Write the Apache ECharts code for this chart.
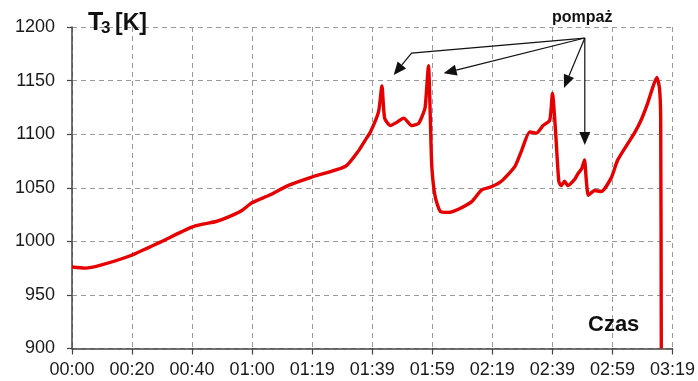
<!DOCTYPE html>
<html>
<head>
<meta charset="utf-8">
<script src="https://cdn.jsdelivr.net/npm/echarts@6/dist/echarts.min.js"></script>
<style>
  html, body { margin: 0; padding: 0; background: #fff; }
  #chart { width: 698px; height: 381px; }
</style>
</head>
<body>
<div id="chart"></div>
<script>
// Time since start, in minutes
const timeMin = [
  0, 4.3, 9.2, 19.7, 29, 39.4, 43.2, 47.7, 52, 56.3, 59.5, 65.2, 71.8, 79.3,
  90.5, 94.9, 97, 98.7, 101.4, 102.5, 103.4, 105.3, 107.4, 109.7, 112.4,
  114.6, 115.7, 116.8, 117.9, 118.5, 119, 120.1, 121.8, 124.5, 127.8, 132.2,
  135.5, 138.8, 142, 146.5, 148.6, 151.4, 153.6, 155.8, 158, 158.9, 159.9,
  161, 161.8, 162.9, 164, 166.3, 167.3, 168.6, 169.5, 170.1, 170.8, 172.8,
  175, 178.3, 180.5, 186, 188.2, 190.4, 192, 193.4, 194.3, 194.7, 194.9
];
// Turbine inlet temperature T3 [K]
const t3 = [
  976, 975, 977.5, 987, 999, 1013, 1016, 1018.5, 1023, 1029, 1036, 1043,
  1052.5, 1060, 1070, 1085, 1094.5, 1102, 1121, 1145, 1115, 1108, 1111,
  1115, 1108, 1110, 1116, 1125, 1164, 1116, 1070, 1042, 1028, 1027, 1030,
  1037, 1048, 1051, 1056, 1070, 1084, 1102, 1101, 1108, 1113, 1138, 1104,
  1056, 1052, 1056, 1052, 1058, 1063, 1068, 1076, 1057, 1043, 1047.5,
  1046.5, 1059, 1076, 1101, 1113, 1129, 1143, 1153, 1143, 1115, 900
];
// Time axis tick labels (hh:mm)
const tickLabels = ['00:00', '00:20', '00:40', '01:00', '01:19', '01:39',
                    '01:59', '02:19', '02:39', '02:59', '03:19'];
const tickStep = 19.86;          // minutes between time ticks
// Arrows for the "pompaż" annotation, in data coordinates [min, K]
const arrowOrigin = [169.6, 1189.7];
const arrowPaths = [
  [[112.3, 1175.7], [106.4, 1155.2]],
  [[122.9, 1156.8]],
  [[162.7, 1143.1]],
  [[169.6, 1089.9]]
];

const FONT = '"Liberation Sans", Arial, sans-serif';
const chart = echarts.init(document.getElementById('chart'), null, { renderer: 'canvas' });

const gridDash = { color: '#9a9a9a', width: 1, type: [5, 4] };

chart.setOption({
  animation: false,
  backgroundColor: '#ffffff',
  grid: { left: 72, right: 23, top: 27, bottom: 32.5, containLabel: false },
  xAxis: {
    type: 'value',
    min: 0,
    max: tickStep * (tickLabels.length - 1),
    interval: tickStep,
    axisLine: { show: true, lineStyle: { color: '#444', width: 1.5 } },
    axisTick: { show: true, length: 6, lineStyle: { color: '#444', width: 1.2 } },
    axisLabel: {
      margin: 13,
      fontFamily: FONT, fontSize: 18, color: '#1a1a1a',
      showMinLabel: true, showMaxLabel: true,
      formatter: v => tickLabels[Math.round(v / tickStep)] || ''
    },
    splitLine: { show: true, lineStyle: gridDash }
  },
  yAxis: {
    type: 'value',
    min: 900, max: 1200, interval: 50,
    axisLine: { show: true, lineStyle: { color: '#444', width: 1.5 } },
    axisTick: { show: true, length: 5, lineStyle: { color: '#444', width: 1.2 } },
    axisLabel: {
      margin: 17, fontFamily: FONT, fontSize: 18, color: '#1a1a1a',
      formatter: v => String(v)
    },
    splitLine: { show: true, lineStyle: gridDash }
  },
  series: [{
    type: 'line',
    data: timeMin.map((t, i) => [t, t3[i]]),
    showSymbol: false,
    smooth: 0.2,
    lineStyle: { color: '#e60000', width: 3.4 },
    itemStyle: { color: '#e60000' },
    z: 3
  }]
});

// Annotation: labels and arrows (arrows placed through the chart's own scales)
function px(p) { return chart.convertToPixel({ gridIndex: 0 }, p); }

const graphics = [
  { type: 'text', left: 88, top: 11, style: { text: 'T', font: 'bold 25px ' + FONT, fill: '#111' } },
  { type: 'text', left: 101, top: 20, style: { text: '3', font: 'bold 17px ' + FONT, fill: '#111' } },
  { type: 'text', left: 115, top: 12, style: { text: '[K]', font: 'bold 23px ' + FONT, fill: '#111' } },
  { type: 'text', left: 588, top: 314, style: { text: 'Czas', font: 'bold 22px ' + FONT, fill: '#111' } },
  { type: 'text', left: 552, top: 10, style: { text: 'pompaż', font: 'bold 16px ' + FONT, fill: '#111' } }
];

const o = px(arrowOrigin);
arrowPaths.forEach(path => {
  const pts = [o].concat(path.map(px));
  const tip = pts[pts.length - 1];
  const prev = pts[pts.length - 2];
  const dx = tip[0] - prev[0], dy = tip[1] - prev[1];
  const len = Math.sqrt(dx * dx + dy * dy);
  const ux = dx / len, uy = dy / len;
  const headLen = 13, halfW = 5.5;
  const bx = tip[0] - ux * headLen, by = tip[1] - uy * headLen;
  const linePts = pts.slice(0, -1).concat([[bx, by]]);
  graphics.push({
    type: 'polyline', silent: true, z: 10,
    shape: { points: linePts },
    style: { stroke: '#111', lineWidth: 1.2, fill: null }
  });
  graphics.push({
    type: 'polygon', silent: true, z: 10,
    shape: { points: [tip, [bx - uy * halfW, by + ux * halfW], [bx + uy * halfW, by - ux * halfW]] },
    style: { fill: '#111' }
  });
});

chart.setOption({ graphic: graphics });
</script>
</body>
</html>
